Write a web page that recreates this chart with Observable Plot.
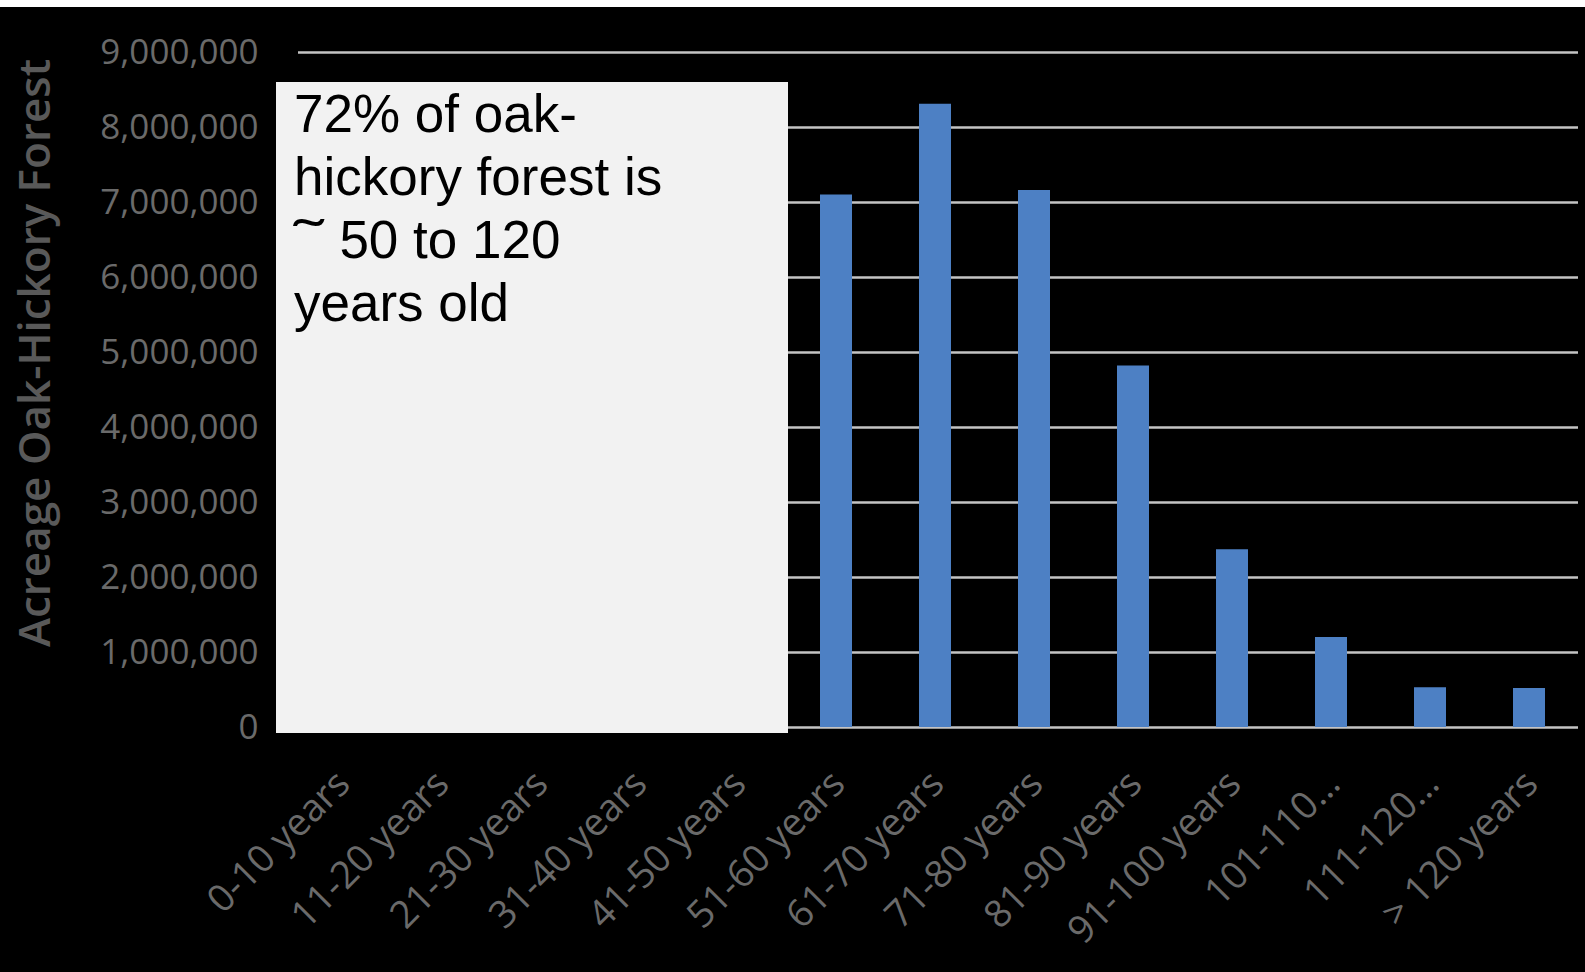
<!DOCTYPE html>
<html>
<head>
<meta charset="utf-8">
<script src="https://cdn.jsdelivr.net/npm/d3@7"></script>
<script src="https://cdn.jsdelivr.net/npm/@observablehq/plot@0.6"></script>
<style>
  html, body { margin: 0; padding: 0; background: #000; width: 1585px; height: 972px; overflow: hidden; }
  #strip { height: 7px; background: #fff; }
  #wrap { position: relative; }
  #note {
    position: absolute; left: 276px; top: 75px; width: 494px; height: 651px;
    background: #f2f2f2; color: #000; padding-left: 18px;
    font-family: "Liberation Sans", Arial, sans-serif; font-size: 53px; line-height: 63px;
  }
  #note .tl { display: inline-block; transform: scaleX(1.7); transform-origin: left center; margin-right: 13px; }
  #chart svg { display: block; }
</style>
</head>
<body>
<div id="strip"></div>
<div id="wrap">
  <div id="chart"></div>
  <div id="note">72% of oak-<br>hickory forest is<br><span class="tl">˜</span> 50 to 120<br>years old</div>
</div>
<script>
// Age classes (x categories)
const ageClasses = ["0-10 years", "11-20 years", "21-30 years", "31-40 years", "41-50 years",
  "51-60 years", "61-70 years", "71-80 years", "81-90 years", "91-100 years",
  "101-110…", "111-120…", "> 120 years"];
// Acreage per class; the first five are hidden behind the annotation box (unreadable)
const acreage = [null, null, null, null, null,
  7100000, 8310000, 7160000, 4820000, 2370000, 1200000, 530000, 520000];
// Y tick values
const yTicks = [0, 1000000, 2000000, 3000000, 4000000, 5000000, 6000000, 7000000, 8000000, 9000000];

const data = ageClasses.map((c, i) => ({age: c, acres: acreage[i]}));

const chart = Plot.plot({
  width: 1585,
  height: 965,
  marginTop: 45,
  marginBottom: 245,
  marginLeft: 298,
  marginRight: 7,
  style: {background: "#000", fontFamily: "'Open Sans', sans-serif"},
  x: {domain: ageClasses, paddingInner: 0.68, paddingOuter: 0.3, align: 0.45, label: null},
  y: {domain: [0, 9000000], label: null},
  marks: [
    Plot.gridY(yTicks, {stroke: "#c4c4c4", strokeOpacity: 1, strokeWidth: 2.5}),
    Plot.barY(data.filter(d => d.acres != null), {x: "age", y: "acres", fill: "#4d80c4"}),
    Plot.axisY(yTicks, {tickSize: 0, tickPadding: 40, tickFormat: d3.format(","), fontSize: 35, fill: "#6a6a6a", label: null, style: {letterSpacing: "0.7px"}}),
    Plot.axisX({tickSize: 0, tickRotate: -45, tickPadding: 50, dx: 2, fontSize: 38, fill: "#6a6a6a", label: null}),
    Plot.text(["Acreage Oak-Hickory Forest"], {frameAnchor: "left", dx: -263, dy: -37, rotate: -90, fontSize: 44, fontWeight: 600, fill: "#595959", textAnchor: "middle"})
  ]
});
document.getElementById("chart").appendChild(chart);
</script>
</body>
</html>
